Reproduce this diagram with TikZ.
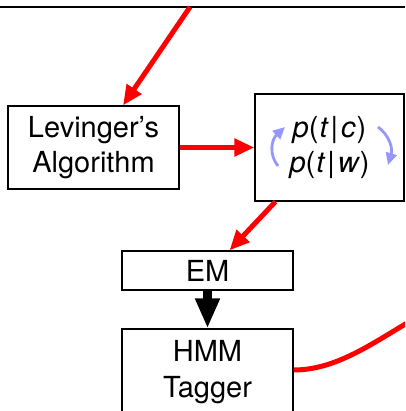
\documentclass[tikz,border=0pt]{standalone}
\usepackage{fontspec}
\setmainfont{TeX Gyre Heros}
\usetikzlibrary{arrows.meta}
\definecolor{arrred}{RGB}{255,0,0}
\definecolor{lightblue}{RGB}{150,150,255}
\begin{document}
\begin{tikzpicture}[x=1pt,y=-1pt,
  box/.style={draw=black,line width=1.2pt,inner sep=0pt,align=center,
    font=\fontsize{29}{35.5}\selectfont},
  redarrow/.style={draw=arrred,line width=5pt,-{Triangle[length=20pt,width=17pt]}},
  redline/.style={draw=arrred,line width=5pt},
  blackarrow/.style={draw=black,line width=9pt,-{Triangle[length=30pt,width=23pt]}},
  bluearrow/.style={draw=lightblue,line width=2.8pt,-{Triangle[length=12pt,width=11pt]}}]
\useasboundingbox (0,0) rectangle (405,411);
\clip (0,0) rectangle (405,411);
% top rule
\coordinate (tl) at (0,7);
\coordinate (tr) at (405,7);
\draw[line width=1.5pt] (tl) -- (tr);
% nodes
\node[box,minimum width=171pt,minimum height=83pt] (lev) at (93.5,147.5) {Levinger's\\Algorithm};
\node[box,minimum width=149pt,minimum height=107pt] (p) at (329.5,147.5)
  {{\itshape p}(\kern1pt{\itshape t}\kern3pt|\kern3pt{\itshape c}\kern1pt)\\
   {\itshape p}(\kern1pt{\itshape t}\kern3pt|\kern3pt{\itshape w}\kern1pt)};
\node[box,minimum width=171pt,minimum height=39pt] (em) at (207.5,270.5) {EM};
\node[box,minimum width=171pt,minimum height=86pt] (hmm) at (207.5,372) {HMM\\Tagger};
% connectors
\coordinate (s1) at (190,7);
\draw[redarrow] (s1) -- ([xshift=29.5pt]lev.north);
\draw[redarrow] (lev.east) -- (p.west);
\draw[redarrow] ([xshift=-54pt]p.south) -- ([xshift=22pt]em.north);
\draw[blackarrow] (em.south) -- (hmm.north);
\coordinate (cend) at (412,320);
\draw[redline] ([yshift=2pt]hmm.east) .. controls (335,370) and (370,345) .. (cend);
% blue cycle arrows
\draw[bluearrow] (278,166) .. controls (269,155) and (271,140) .. (285,127);
\draw[bluearrow] (378,127) .. controls (389,135) and (393,148) .. (388,165);
\end{tikzpicture}
\end{document}
